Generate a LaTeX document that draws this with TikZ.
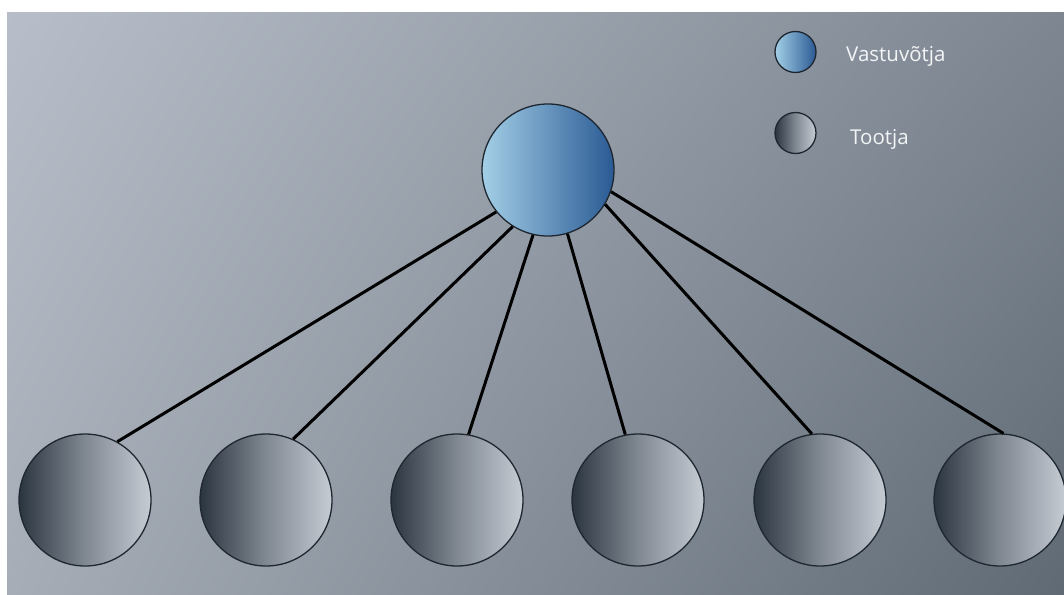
\documentclass[tikz,border=0pt]{standalone}
\usepackage{fontspec}
\setmainfont{Open Sans}
\usetikzlibrary{shadings}
\definecolor{bgUL}{HTML}{B7BEC9}
\definecolor{bgUR}{HTML}{7E8791}
\definecolor{bgLL}{HTML}{A6ADB7}
\definecolor{bgLR}{HTML}{5F6A75}
\definecolor{prodL}{HTML}{2B3540}
\definecolor{prodR}{HTML}{C6CCD4}
\definecolor{recL}{HTML}{A3CFE6}
\definecolor{recR}{HTML}{2A5A94}
\definecolor{rim}{HTML}{1E2730}
\definecolor{legtxt}{HTML}{F2F4F6}
\begin{document}
\begin{tikzpicture}[x=1pt,y=-1pt,
  producer/.style={circle,draw=rim,line width=1.3pt,minimum size=132pt,inner sep=0pt,left color=prodL,right color=prodR,middle color=prodL!45!prodR},
  receiver/.style={circle,draw=rim,line width=1.3pt,minimum size=132pt,inner sep=0pt,left color=recL,right color=recR},
  legprod/.style={producer,minimum size=41pt},
  legrec/.style={receiver,minimum size=41pt},
  link/.style={draw=black,line width=3pt},
  legtext/.style={text=legtxt,font=\fontsize{20.5}{24}\selectfont,anchor=base west,inner sep=0pt}]
\useasboundingbox (0,0) rectangle (1064,594);
\shade[upper left=bgUL,upper right=bgUR,lower left=bgLL,lower right=bgLR] (7,13) rectangle (1064,594);
\begin{scope}
\clip (7,13) rectangle (1064,594);
\node[receiver] (r) at (548,170) {};
\node[producer] (p1) at (85,500) {};
\node[producer] (p2) at (266,500) {};
\node[producer] (p3) at (457,500) {};
\node[producer] (p4) at (638,500) {};
\node[producer] (p5) at (820,500) {};
\node[producer] (p6) at (1000,500) {};
\end{scope}
\draw[link] (r.219) -- (p1.61);
\draw[link] (r.238) -- (p2.66);
\draw[link] (r.257) -- (p3.80);
\draw[link] (r.287) -- (p4.101);
\draw[link] (r.329) -- (p5.97);
\draw[link] (r.341) -- (p6.87);
\node[legrec] (lr) at (795.5,52) {};
\node[legprod] (lp) at (795.5,133) {};
\node[legtext] (tr) at (846,62) {Vastuvõtja};
\node[legtext] (tp) at (850,144) {Tootja};
\end{tikzpicture}
\end{document}
